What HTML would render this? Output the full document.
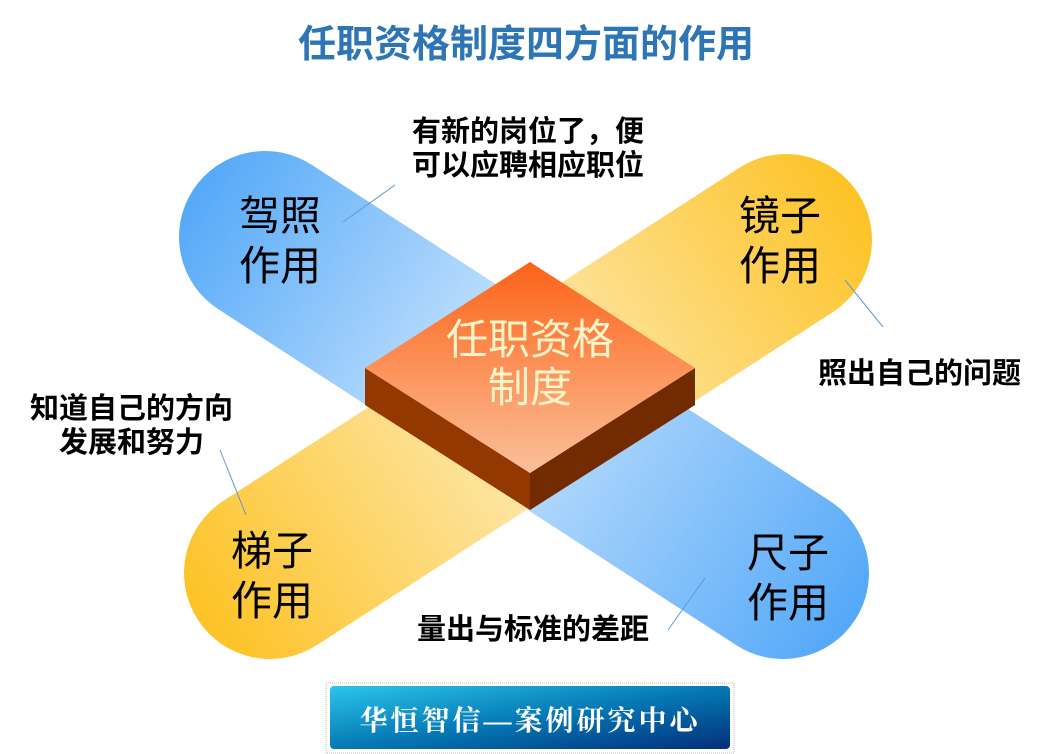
<!DOCTYPE html>
<html><head><meta charset="utf-8"><style>
body{margin:0;width:1052px;height:754px;background:#fff;overflow:hidden;position:relative;font-family:"Liberation Sans","Noto Sans CJK SC",sans-serif}
.t{position:absolute;white-space:nowrap}
.b{font-weight:bold;font-size:29px;color:#000}
.big{font-size:41px;color:#000;line-height:50px;text-align:center}
</style></head><body>
<svg width="1052" height="754" style="position:absolute;left:0;top:0">
<defs>
<linearGradient id="bl" gradientUnits="userSpaceOnUse" x1="180" y1="180" x2="870" y2="630">
<stop offset="0" stop-color="#4fa6f8"/><stop offset="0.45" stop-color="#c9e4fd"/><stop offset="1" stop-color="#4fa6f8"/></linearGradient>
<linearGradient id="yl" gradientUnits="userSpaceOnUse" x1="872" y1="180" x2="185" y2="630">
<stop offset="0" stop-color="#fdc01e"/><stop offset="0.5" stop-color="#fdebb8"/><stop offset="1" stop-color="#fdc01e"/></linearGradient>
<linearGradient id="tp" x1="0" y1="0" x2="0" y2="1">
<stop offset="0" stop-color="#fc6318"/><stop offset="1" stop-color="#fbc09a"/></linearGradient>
<linearGradient id="bn" x1="0" y1="0" x2="1" y2="1">
<stop offset="0" stop-color="#2bc6ea"/><stop offset="0.5" stop-color="#0579b5"/><stop offset="1" stop-color="#032f7a"/></linearGradient>
</defs>
<line x1="265" y1="237" x2="783" y2="573" stroke="url(#bl)" stroke-width="172" stroke-linecap="round"/>
<line x1="786" y1="240" x2="270" y2="573" stroke="url(#yl)" stroke-width="172" stroke-linecap="round"/>
<polygon points="365,368 530,473 530,510 365,405" fill="#933800"/>
<polygon points="695,368 530,473 530,510 695,405" fill="#722a00"/>
<polygon points="530,262 695,368 530,473 365,368" fill="url(#tp)"/>
<g stroke="#5b9bd5" stroke-width="1">
<line x1="395" y1="185" x2="343" y2="222"/>
<line x1="845" y1="280" x2="883" y2="327"/>
<line x1="220" y1="450" x2="246" y2="515"/>
<line x1="668" y1="630" x2="705" y2="578"/>
</g>
<rect x="326" y="683" width="408" height="70" fill="none" stroke="#bbb" stroke-dasharray="1,1"/>
<rect x="330" y="686" width="400" height="63" rx="4" fill="url(#bn)"/>
</svg>
<div class="t" style="left:0;width:1052px;text-align:center;top:13px;font-size:38px;font-weight:bold;color:#2e75b6">任职资格制度四方面的作用</div>
<div class="t" style="left:430px;width:200px;top:316px;text-align:center;font-size:42px;line-height:48px;color:#fff5c8">任职资格<br>制度</div>
<div class="t big" style="left:220px;width:120px;top:191px">驾照<br>作用</div>
<div class="t big" style="left:720px;width:120px;top:191px">镜子<br>作用</div>
<div class="t big" style="left:212px;width:120px;top:526px">梯子<br>作用</div>
<div class="t big" style="left:728px;width:120px;top:528px">尺子<br>作用</div>
<div class="t b" style="left:412px;top:115px;line-height:34px">有新的岗位了，便<br>可以应聘相应职位</div>
<div class="t b" style="left:818px;top:350px">照出自己的问题</div>
<div class="t b" style="left:30px;top:392px;line-height:34px;text-align:center">知道自己的方向<br>发展和努力</div>
<div class="t b" style="left:417px;top:606px">量出与标准的差距</div>
<div class="t" style="left:330px;width:400px;top:699px;text-align:center;font-size:28px;font-weight:bold;color:#fff;font-family:'Liberation Serif','Noto Serif CJK SC',serif;letter-spacing:3px">华恒智信—案例研究中心</div>
</body></html>
